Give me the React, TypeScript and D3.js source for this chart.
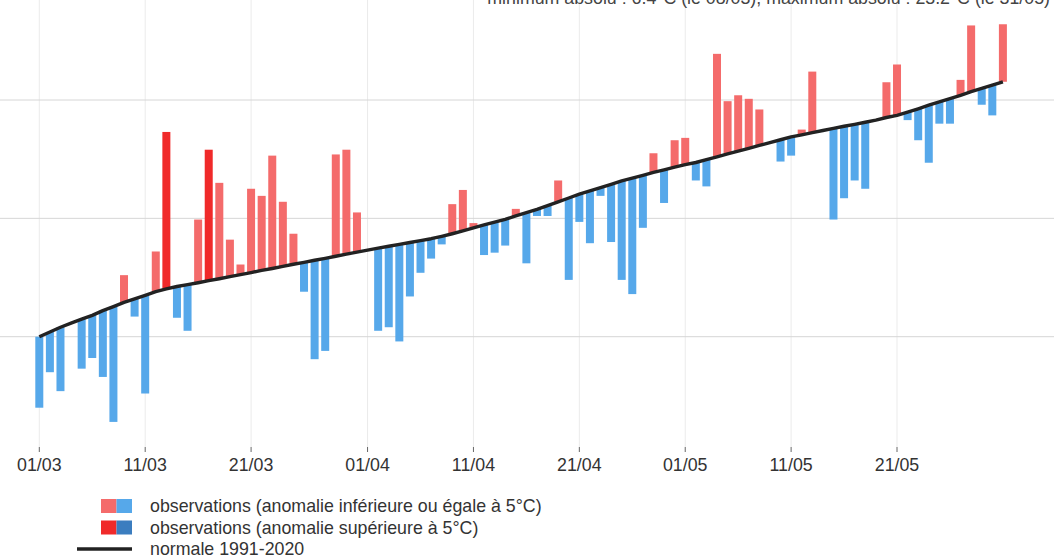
import React from "react";
import * as d3 from "d3";

const WIDTH = 1054;
const HEIGHT = 559;
const FONT = "'Liberation Sans', Arial, Helvetica, sans-serif";
const FONT_SIZE = 17.8;

const YEAR = 2023;
const THRESHOLD = 5;

// normale 1991-2020, 01/03 -> 31/05 (°C)
const normals = [
  10.0, 10.2, 10.4, 10.57, 10.74, 10.9, 11.1, 11.27, 11.45, 11.6,
  11.75, 11.9, 12.02, 12.12, 12.2, 12.28, 12.37, 12.45, 12.54, 12.62,
  12.71, 12.8, 12.88, 12.97, 13.06, 13.14, 13.23, 13.31, 13.4, 13.49,
  13.57, 13.66, 13.74, 13.82, 13.9, 13.98, 14.06, 14.14, 14.24, 14.35,
  14.47, 14.6, 14.72, 14.84, 14.96, 15.1, 15.24, 15.38, 15.54, 15.7,
  15.86, 16.02, 16.16, 16.3, 16.44, 16.58, 16.7, 16.82, 16.94, 17.05,
  17.16, 17.27, 17.36, 17.48, 17.6, 17.72, 17.84, 17.96, 18.08, 18.2,
  18.32, 18.44, 18.53, 18.62, 18.71, 18.8, 18.89, 18.97, 19.06, 19.15,
  19.26, 19.35, 19.49, 19.63, 19.78, 19.92, 20.06, 20.2, 20.35, 20.49,
  20.63, 20.77,
];

// observations (°C), null: pas de barre visible
const observed: (number | null)[] = [
  7.0, 8.5, 7.7, null, 8.65, 9.1, 8.3, 6.4, 12.6, 10.85,
  7.6, 13.6, 18.65, 10.8, 10.25, 14.95, 17.9, 16.5, 14.1, 13.05,
  16.25, 15.95, 17.65, 15.7, 14.35, 11.9, 9.05, 9.4, 17.7, 17.9,
  15.25, null, 10.25, 10.4, 9.8, 11.7, 12.7, 13.3, 13.9, 15.6,
  16.2, 14.8, 13.45, 13.55, 13.85, 15.4, 13.1, 15.1, 15.1, 16.6,
  12.4, 14.85, 13.95, 15.95, 14.0, 12.4, 11.8, 14.6, 17.75, 15.65,
  18.3, 18.4, 16.6, 16.35, 21.95, 19.95, 20.2, 20.05, 19.6, null,
  17.4, 17.65, 18.75, 21.2, null, 14.95, 15.85, 16.6, 16.25, null,
  20.75, 21.5, 19.15, 18.3, 17.35, 19.0, 19.0, 20.85, 23.15, 19.8,
  19.35, 23.2,
];

const tickLabels = ["01/03", "11/03", "21/03", "01/04", "11/04", "21/04", "01/05", "11/05", "21/05"];
const gridTemps = [10, 15, 20];

const legendItems = [
  { label: "observations (anomalie inférieure ou égale à 5°C)", colors: ["#f46b6b", "#56a8ea"] },
  { label: "observations (anomalie supérieure à 5°C)", colors: ["#f02a2a", "#3b7dbf"] },
  { label: "normale 1991-2020", colors: null },
];

const title = "minimum absolu : 6.4°C (le 08/03), maximum absolu : 23.2°C (le 31/05)";

const parse = d3.utcParse("%d/%m/%Y");
const dayDate = (i: number) => d3.utcDay.offset(new Date(Date.UTC(YEAR, 2, 1)), i);

export default function App() {
  const x = d3
    .scaleUtc()
    .domain([dayDate(0), dayDate(normals.length - 1)])
    .range([39.3, 1002.9]);
  const y = d3.scaleLinear().domain([10, 20]).range([336.7, 100]);

  const plotBottom = 447;
  const barW = 8;

  const line = d3
    .line<number>()
    .x((_, i) => x(dayDate(i)))
    .y((d) => y(d));

  const bars = observed
    .map((obs, i) => {
      if (obs === null) return null;
      const norm = normals[i];
      const anom = obs - norm;
      const strong = Math.abs(anom) > THRESHOLD;
      const fill = anom >= 0 ? (strong ? "#f02a2a" : "#f46b6b") : strong ? "#3b7dbf" : "#56a8ea";
      const y0 = y(Math.max(obs, norm));
      const y1 = y(Math.min(obs, norm));
      return { key: i, x: x(dayDate(i)) - barW / 2, y: y0, h: y1 - y0, fill };
    })
    .filter((b) => b !== null) as { key: number; x: number; y: number; h: number; fill: string }[];

  return (
    <svg
      width={WIDTH}
      height={HEIGHT}
      style={{ position: "absolute", left: 0, top: 0, background: "#fff" }}
      fontFamily={FONT}
    >
      {/* grille */}
      <g>
        {tickLabels.map((t) => {
          const px = x(parse(`${t}/${YEAR}`)!);
          return (
            <g key={t}>
              <line x1={px} x2={px} y1={0} y2={plotBottom} stroke="#ebebeb" strokeWidth={1} />
              <line x1={px} x2={px} y1={plotBottom} y2={plotBottom + 5} stroke="#666" strokeWidth={1} />
              <text x={px} y={471} textAnchor="middle" fontSize={FONT_SIZE} fill="#333">
                {t}
              </text>
            </g>
          );
        })}
        {gridTemps.map((t) => (
          <line key={t} x1={0} x2={WIDTH} y1={y(t)} y2={y(t)} stroke="#d6d6d6" strokeWidth={1} />
        ))}
      </g>

      {/* barres */}
      <g>
        {bars.map((b) => (
          <rect key={b.key} x={b.x} y={b.y} width={barW} height={Math.max(b.h, 0.5)} fill={b.fill} />
        ))}
      </g>

      {/* normale */}
      <path d={line(normals)!} fill="none" stroke="#222" strokeWidth={3.4} strokeLinejoin="round" />

      {/* titre (tronqué en haut comme dans l'original) */}
      <text x={1050} y={4} textAnchor="end" fontSize={FONT_SIZE} fill="#444">
        {title}
      </text>

      {/* légende */}
      <g>
        {legendItems.map((item, i) => {
          const cy = 506 + i * 21.5;
          return (
            <g key={item.label}>
              {item.colors ? (
                <>
                  <rect x={101} y={cy - 7} width={15.5} height={14} fill={item.colors[0]} />
                  <rect x={116.5} y={cy - 7} width={15.5} height={14} fill={item.colors[1]} />
                </>
              ) : (
                <line x1={77} x2={132} y1={cy} y2={cy} stroke="#222" strokeWidth={3.4} />
              )}
              <text x={150} y={cy + 6} fontSize={FONT_SIZE} fill="#333">
                {item.label}
              </text>
            </g>
          );
        })}
      </g>
    </svg>
  );
}
